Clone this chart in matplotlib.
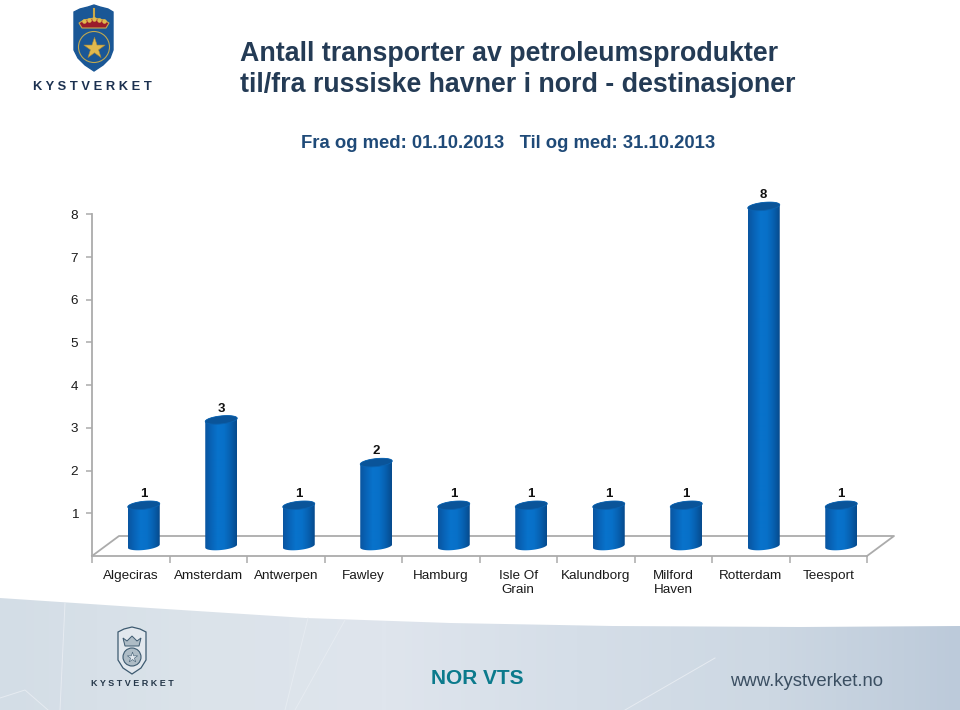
import numpy as np
import matplotlib
matplotlib.use("Agg")
import matplotlib.pyplot as plt
from matplotlib.colors import LinearSegmentedColormap
from matplotlib.patches import Polygon, Circle

plt.rcParams['font.family'] = ['Liberation Sans', 'DejaVu Sans']

# data
categories = ["Algeciras", "Amsterdam", "Antwerpen", "Fawley", "Hamburg",
              "Isle Of\nGrain", "Kalundborg", "Milford\nHaven", "Rotterdam", "Teesport"]
values = [1, 3, 1, 2, 1, 1, 1, 1, 8, 1]
y_ticks = [1, 2, 3, 4, 5, 6, 7, 8]

title_lines = ["Antall transporter av petroleumsprodukter",
               "til/fra russiske havner i nord - destinasjoner"]
subtitle = "Fra og med: 01.10.2013   Til og med: 31.10.2013"

W, H = 960, 710
fig = plt.figure(figsize=(W / 100, H / 100), dpi=100, facecolor="white")

# ---- background layer in pixels (banner, logos, headings)
bg = fig.add_axes([0, 0, 1, 1])
bg.set_xlim(0, W)
bg.set_ylim(H, 0)
bg.axis("off")

banner_cmap = LinearSegmentedColormap.from_list(
    "banner", ["#d3dde6", "#dbe3ea", "#dfe5ed", "#d5deE8", "#cdd8e3", "#bccada"])
grad = np.linspace(0, 1, 256).reshape(1, -1)
im = bg.imshow(grad, cmap=banner_cmap, extent=[0, W, H, 596], aspect="auto", zorder=1)
edge_x = np.array([0, 60, 150, 306, 450, 612, 800, 960])
edge_y = np.array([598, 602, 608, 618, 623, 626, 627, 626])
banner = Polygon(np.column_stack([np.r_[edge_x, W, 0], np.r_[edge_y, H, H]]),
                 closed=True, transform=bg.transData, fc="none", ec="none")
bg.add_patch(banner)
im.set_clip_path(banner)
bg.set_xlim(0, W)
bg.set_ylim(H, 0)

# thin pale streaks in the banner
for xs, ys in [([65, 60], [603, 710]), ([345, 295], [620, 710]), ([308, 285], [618, 710]),
               ([715, 625], [658, 710]), ([0, 25, 48], [698, 690, 710])]:
    bg.plot(xs, ys, color="#e6ebf1", lw=0.7, zorder=2)

# top logo
shield = [(74, 12), (80, 9), (88, 7), (94, 5), (100, 7), (108, 9), (113, 12), (113, 50),
          (110, 58), (103, 65), (94, 71), (85, 65), (78, 58), (74, 50)]
bg.add_patch(Polygon(shield, closed=True, fc="#1a5796", ec="#1a5796", zorder=3))
crown = [(79, 23), (84, 20), (94, 18), (104, 20), (109, 23), (106, 28), (82, 28)]
bg.add_patch(Polygon(crown, closed=True, fc="#9a1c2b", ec="#c9a84a", lw=0.8, zorder=4))
bg.scatter([84, 89, 94, 99, 104], [21, 19.5, 19, 19.5, 21], s=5, c="#e0b94e", zorder=5)
bg.plot([94, 94], [9, 17], color="#c9a84a", lw=1.5, zorder=4)
bg.add_patch(Circle((94, 47), 15.5, fc="none", ec="#c0a850", lw=0.8, zorder=4))
bg.scatter([94], [48], marker="*", s=260, c="#e0b94e", edgecolors="#a8893a", lw=0.4, zorder=5)
bg.text(92.5, 87, "K Y S T V E R K E T", ha="center", va="center", fontsize=9.3,
        fontweight="bold", color="#1c3150", zorder=5)

# bottom logo
shield2 = [(118, 632), (124, 629), (132, 627), (140, 629), (146, 632), (146, 660),
           (141, 668), (132, 674), (123, 668), (118, 660)]
bg.add_patch(Polygon(shield2, closed=True, fc="#e2e8ee", ec="#3d5a70", lw=0.9, zorder=3))
crown2 = [(123, 638), (127, 641), (132, 636), (137, 641), (141, 638), (139, 646), (125, 646)]
bg.add_patch(Polygon(crown2, closed=True, fc="#aebcc6", ec="#3d5a70", lw=0.7, zorder=4))
bg.add_patch(Circle((132, 657), 9, fc="#aebcc6", ec="#3d5a70", lw=0.8, zorder=4))
bg.scatter([132], [657], marker="*", s=60, c="#e2e8ee", edgecolors="#3d5a70", lw=0.4, zorder=5)
bg.text(132.5, 684, "K Y S T V E R K E T", ha="center", va="center", fontsize=6.5,
        fontweight="bold", color="#26384a", zorder=5)

bg.text(477, 678, "NOR VTS", ha="center", va="center", fontsize=15, fontweight="bold",
        color="#0b7a8c", zorder=5)
bg.text(807, 682, "www.kystverket.no", ha="center", va="center", fontsize=13.3,
        color="#3b4f62", zorder=5)

# headings
bg.text(240, 54, title_lines[0], ha="left", va="center", fontsize=19.3, fontweight="bold", color="#243b55")
bg.text(240, 85, title_lines[1], ha="left", va="center", fontsize=19.3, fontweight="bold", color="#243b55")
bg.text(301, 143, subtitle, ha="left", va="center", fontsize=13.35, fontweight="bold", color="#1f4a78")

# ---- chart
ax_l, ax_r, ax_b = 92, 867, 556
unit = 42.7
ax = fig.add_axes([ax_l / W, (H - ax_b) / H, (ax_r - ax_l) / W, 8 * unit / H])
ax.patch.set_alpha(0)
ax.set_xlim(0, len(categories))
ax.set_ylim(0, 8)

px_x = len(categories) / (ax_r - ax_l)   # data units per pixel
px_y = 1 / unit

# 3d floor
grey = "#ababab"
depth_x, depth_y = 27 * px_x, 20 * px_y
ax.plot([0, depth_x, 10 + depth_x, 10], [0, depth_y, depth_y, 0], color=grey, lw=1.3,
        clip_on=False, zorder=1)

for s in ["top", "right"]:
    ax.spines[s].set_visible(False)
for s in ["left", "bottom"]:
    ax.spines[s].set_color(grey)
    ax.spines[s].set_linewidth(1.3)

ax.set_yticks(y_ticks)
ax.set_xticks(np.arange(len(categories) + 1))
ax.set_xticklabels([])
ax.set_xticks(np.arange(len(categories)) + 0.5, minor=True)
ax.set_xticklabels(categories, minor=True, fontsize=9.7, color="#1a1a1a", linespacing=1.28)
ax.tick_params(axis="x", which="minor", length=0, pad=10)
ax.tick_params(axis="x", which="major", length=5, color=grey, width=1.1)
ax.tick_params(axis="y", length=4, color=grey, width=1.1, labelsize=9.7, labelcolor="#1a1a1a", pad=6)

# cylinders
cyl_cmap = LinearSegmentedColormap.from_list(
    "cyl", ["#0a55a0", "#0864b8", "#0873cc", "#0870c8", "#0760b0", "#064a8c"])
shade = np.linspace(0, 1, 128).reshape(1, -1)
half_w = 16 * px_x
b_h = 4 * px_y
tilt = 1.6 * px_y
off_x = 13 * px_x
top_off = 8 * px_y
base_off = 10 * px_y
t = np.linspace(0, np.pi, 40)

for i, v in enumerate(values):
    cx = i + 0.5 + off_x
    top = v + top_off
    ex = cx + half_w * np.cos(t)
    # rim points, right to left over the upper half
    rim = b_h * np.sin(t) + tilt * np.cos(t)
    low = -b_h * np.sin(t) + tilt * np.cos(t)
    body = np.column_stack([np.r_[ex, ex[::-1]], np.r_[top + rim, base_off + low[::-1]]])
    patch = Polygon(body, closed=True, fc="none", ec="none", transform=ax.transData)
    ax.add_patch(patch)
    img = ax.imshow(shade, cmap=cyl_cmap, aspect="auto", zorder=3,
                    extent=[cx - half_w, cx + half_w, base_off - 2 * b_h, top + 2 * b_h])
    img.set_clip_path(patch)
    img.set_clip_box(fig.bbox)   # tallest bar pokes above the axes
    cap = np.column_stack([np.r_[ex, ex[::-1]], np.r_[top + rim, top + low[::-1]]])
    ax.add_patch(Polygon(cap, closed=True, fc="#0a5499", ec="#0a62b0", lw=0.6, zorder=4, clip_on=False))
    ax.text(cx, v + 0.45, str(v), ha="center", va="center", fontsize=9.5, fontweight="bold",
            color="#111111", zorder=5, clip_on=False)

ax.set_xlim(0, len(categories))
ax.set_ylim(0, 8)

fig.savefig("out.png", dpi=100)
